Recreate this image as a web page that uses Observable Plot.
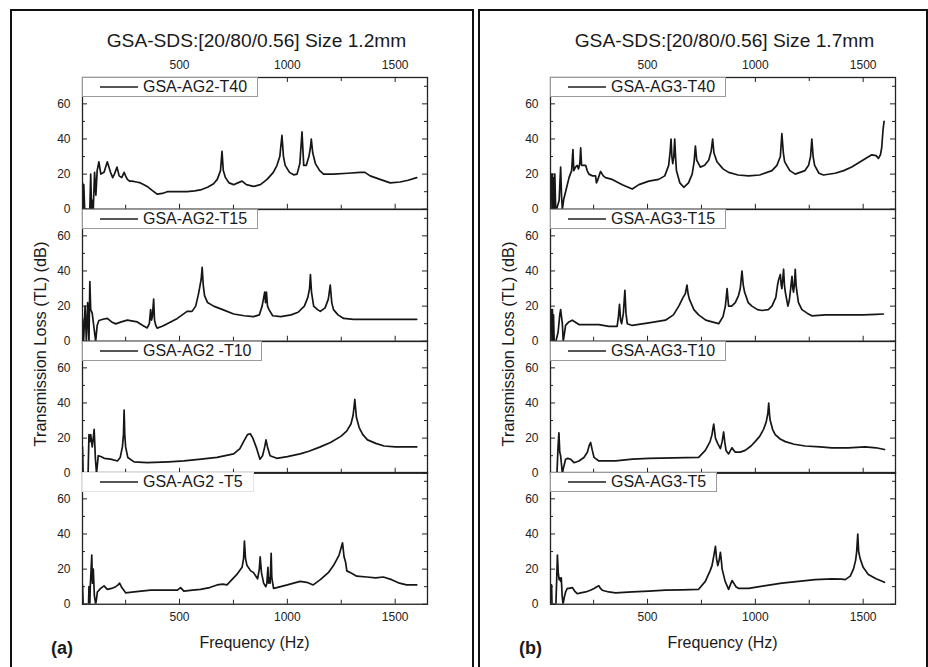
<!DOCTYPE html>
<html><head><meta charset="utf-8">
<script src="https://cdn.jsdelivr.net/npm/d3@7"></script>
<script src="https://cdn.jsdelivr.net/npm/@observablehq/plot@0.6"></script>
<style>
body{margin:0;background:#fff;font-family:Arial,"Liberation Sans",sans-serif;color:#1a1a1a;}
#root{position:relative;width:928px;height:667px;overflow:hidden;background:#fff;}
.panel{position:absolute;border:2px solid #111;box-sizing:border-box;}
.abs{position:absolute;white-space:nowrap;}
.title{font-size:19.2px;transform:translateX(-50%);}
.xlab{font-size:16px;transform:translateX(-50%);}
.ylab{font-size:16.3px;transform:translate(-50%,-50%) rotate(-90deg);}
.tag{font-size:18px;font-weight:bold;}
.legend{position:absolute;height:20px;box-sizing:border-box;background:#fff;border:1px solid #9a9a9a;display:flex;align-items:center;padding-right:10px;font-size:16px;white-space:nowrap;}
.legend svg{margin-left:17px;margin-right:5px;}
.sub{position:absolute;}
</style>
</head><body><div id="root"></div>
<script>
// ---- data: [frequency (Hz), transmission loss (dB)] ----
const AG2_T40 = [[50,15],[53,0],[56,14],[60,0],[66,0],[78,0],[84,0],[88,20],[92,0],[96,5],[100,0],[106,21],[112,8],[118,22],[126,27],[135,20],[150,21],[165,27],[180,21],[190,18],[198,20],[210,24],[220,19],[232,18],[243,21],[250,19],[258,17],[268,16],[280,16],[300,15.5],[319,15],[335,14],[350,13],[370,11],[396,8.6],[420,9],[443,10],[490,10],[535,10],[570,10.5],[597,11],[630,12.5],[658,14.5],[675,17],[690,22],[697,33],[703,22],[713,18],[730,15],[751,14],[770,15],[790,16],[810,14],[843,13],[875,14],[906,17],[935,21],[952,25],[965,30],[975,42],[982,30],[990,25],[1010,21],[1029,19.6],[1045,20],[1058,26],[1068,44],[1076,25],[1088,25],[1100,30],[1107,35],[1111,40],[1118,32],[1130,26],[1150,22],[1168,20],[1214,20],[1280,20.5],[1338,21],[1360,21],[1384,19],[1430,17],[1477,15],[1523,15.5],[1560,16.5],[1600,18]];
const AG2_T15 = [[50,13],[55,0],[62,20],[68,0],[74,22],[80,0],[84,34],[88,18],[95,16],[103,8],[111,0],[118,9],[126,11.8],[145,12.5],[165,13],[185,11],[204,9.9],[230,11],[258,12],[304,11],[330,9],[350,7.6],[360,10],[366,18],[370,12],[374,14],[380,24],[384,12],[390,9],[396,7.5],[420,8.5],[443,10],[490,13],[535,17],[558,17],[575,20],[588,27],[600,35],[605,42],[610,32],[616,26],[630,22],[658,20],[700,18],[751,15.5],[800,14.5],[843,14],[870,15],[883,20],[895,28],[899,22],[903,28],[908,20],[915,18],[932,14.5],[970,14],[1017,15],[1050,16.5],[1079,20],[1095,25],[1103,30],[1107,38],[1112,28],[1122,20],[1140,18],[1153,17],[1175,19],[1190,24],[1199,32],[1206,22],[1214,18],[1235,15],[1261,13],[1307,12.5],[1400,12.5],[1500,12.5],[1600,12.5]];
const AG2_T10 = [[50,15],[53,0],[76,0],[80,22],[84,18],[88,22],[95,15],[100,20],[104,25],[110,8],[115,0],[120,6],[123,10],[135,9.5],[151,8.5],[180,8],[212,7],[225,9],[235,15],[240,22],[243,36],[246,22],[250,15],[260,9],[289,6.5],[350,6],[450,6.5],[520,7],[600,8],[674,9],[751,11],[780,14],[797,18],[815,22],[828,22.5],[840,20],[858,14],[873,8],[885,10],[895,15],[901,19],[908,15],[920,10],[951,8.5],[1000,9.5],[1059,11],[1100,12.5],[1153,15],[1200,17.5],[1248,21],[1275,24],[1295,28],[1305,33],[1313,42],[1320,32],[1333,26],[1350,22],[1372,19],[1410,17],[1449,15.5],[1500,15],[1550,15],[1600,15]];
const AG2_T5 = [[50,11],[53,0],[78,0],[80,10],[84,0],[86,10],[90,20],[93,28],[96,12],[100,20],[105,5],[111,0],[115,3],[119,7],[134,9],[150,10.5],[165,8.5],[185,9],[204,10],[215,11],[222,12],[230,10],[250,6.5],[289,7],[366,8],[443,8],[490,8],[505,9.5],[520,7.5],[560,8],[597,8.5],[640,9.5],[674,11],[700,11.5],[720,11],[766,17],[790,21],[797,26],[801,36],[806,26],[813,22],[830,19],[843,18],[862,14.5],[870,20],[874,27],[880,18],[890,12],[900,10],[905,12],[910,21],[913,12],[917,15],[920,12],[925,29],[928,15],[932,12],[936,9],[951,9.5],[1000,11],[1059,13],[1090,12.5],[1120,11],[1153,14],[1190,18],[1214,22],[1240,28],[1256,35],[1263,27],[1270,24],[1276,19],[1300,17.5],[1322,16],[1368,15.5],[1410,15],[1445,15.5],[1484,14],[1520,12],[1553,11],[1600,11]];
const AG3_T40 = [[55,20],[57,0],[59,20],[61,0],[63,18],[66,0],[70,20],[74,0],[78,0],[90,5],[97,24],[101,8],[105,0],[112,6],[120,10],[136,18],[148,22],[154,34],[158,22],[166,24],[174,25],[180,23],[186,26],[190,35],[194,25],[198,25],[213,25],[220,22],[228,20],[245,19],[259,19],[263,15],[267,16],[282,21.5],[295,19],[305,18],[336,17],[383,14],[429,11.5],[460,14],[506,16],[552,17],[580,19],[598,25],[605,33],[609,40],[613,30],[617,26],[622,30],[626,40],[630,30],[634,22],[650,15],[668,12.5],[690,15],[707,20],[716,27],[722,36],[728,28],[745,24],[765,25],[784,28],[795,33],[802,40],[808,32],[822,27],[850,23],[876,21],[920,19.5],[969,19],[1020,19.5],[1077,22],[1100,25],[1116,30],[1123,43],[1130,32],[1136,27],[1160,22],[1185,20],[1230,22],[1247,25],[1256,30],[1262,40],[1268,30],[1275,25],[1295,20.5],[1316,19.5],[1370,20.5],[1410,22],[1447,24],[1500,28],[1540,31],[1560,30.5],[1571,29],[1580,31],[1586,35],[1592,45],[1597,50]];
const AG3_T15 = [[55,18],[57,0],[59,18],[61,0],[64,15],[67,0],[75,0],[85,5],[93,15],[97,18],[101,14],[105,10],[109,0],[113,3],[120,9],[135,11],[151,12],[182,9.5],[230,9.5],[274,9.5],[321,8.5],[359,8.5],[365,14],[370,21],[375,12],[380,10],[388,16],[395,29],[400,16],[406,10],[429,9],[506,10.5],[583,12],[620,15],[645,20],[665,25],[675,27],[683,32],[688,27],[694,24],[715,18],[737,15],[770,12],[799,11],[830,10],[850,14],[861,20],[869,30],[873,24],[876,20],[890,20],[907,22],[922,26],[930,30],[938,40],[944,32],[950,28],[967,22],[984,20],[1010,18],[1031,17.5],[1060,18],[1077,20],[1095,25],[1103,32],[1108,35],[1116,38],[1120,32],[1123,30],[1127,35],[1131,41],[1135,32],[1139,28],[1145,24],[1151,20],[1157,23],[1162,28],[1170,37],[1174,30],[1177,28],[1181,32],[1185,41],[1189,32],[1193,28],[1200,22],[1216,18],[1240,16],[1262,14.5],[1324,15],[1380,15],[1432,15],[1500,15],[1560,15.3],[1594,15.5]];
const AG3_T10 = [[55,0],[80,0],[85,15],[89,23],[93,12],[97,10],[101,5],[105,0],[110,3],[120,8],[130,8.5],[143,8],[159,6],[182,7],[205,9],[221,12],[230,16],[236,17.5],[244,13],[252,9],[274,7],[352,7],[430,8],[506,8.5],[620,8.7],[737,9],[768,13],[790,18],[799,22],[804,26],[807,28],[811,24],[815,20],[825,17],[838,14],[846,18],[853,23.5],[858,18],[864,13],[876,11],[885,13],[892,14.5],[900,13],[907,12],[930,12],[953,13],[980,15.5],[999,18],[1020,21],[1038,25],[1050,29],[1058,34],[1062,40],[1066,33],[1069,30],[1080,25],[1092,22],[1115,19.5],[1139,18],[1180,16.5],[1231,15.5],[1300,15],[1355,14.5],[1430,14.5],[1509,15],[1560,14.5],[1599,13.5]];
const AG3_T5 = [[55,11],[57,0],[75,0],[79,15],[82,28],[86,18],[90,14],[93,15],[97,13],[100,15],[104,5],[108,0],[114,4],[120,7],[128,9],[136,9],[151,9.5],[162,7.5],[174,6],[190,6.5],[213,7],[235,8],[252,9],[265,10],[274,10.5],[282,9],[290,8],[320,7],[352,6.5],[429,7],[506,7.5],[583,8],[660,8.2],[737,8.5],[768,13],[790,19],[799,22],[808,28],[815,33],[820,26],[826,22],[832,25],[838,29.5],[843,24],[846,20],[860,13],[876,8.5],[884,11],[892,13.5],[900,12],[910,10],[923,9],[969,9],[1040,10.5],[1123,12],[1200,13],[1277,14],[1355,14.5],[1400,14.3],[1417,14],[1440,16],[1455,20],[1465,25],[1470,30],[1475,40],[1479,30],[1486,26],[1500,21],[1524,17],[1560,14.5],[1599,12.5]];

const panelTitles = ["GSA-SDS:[20/80/0.56] Size 1.2mm", "GSA-SDS:[20/80/0.56] Size 1.7mm"];
const panelTags = ["(a)", "(b)"];
const seriesA = [AG2_T40, AG2_T15, AG2_T10, AG2_T5];
const seriesB = [AG3_T40, AG3_T15, AG3_T10, AG3_T5];
const namesA = ["GSA-AG2-T40", "GSA-AG2-T15", "GSA-AG2 -T10", "GSA-AG2 -T5"];
const namesB = ["GSA-AG3-T40", "GSA-AG3-T15", "GSA-AG3-T10", "GSA-AG3-T5"];
const xDomain = [50, 1650];
const yDomain = [0, 75];
const xMajor = [500, 1000, 1500];
const xMinor = [250, 750, 1250];
const yMajor = [0, 20, 40, 60];
const yMinor = [10, 30, 50, 70];
const yLabel = "Transmission Loss (TL) (dB)";
const xLabel = "Frequency (Hz)";

// ---- layout ----
const root = document.getElementById("root");
const FW = 345, FH = 131.75, FTOP = 77;
const ML = 45, MR = 12, MT = 30, MB = 30;
const INK = "#161616";
const fmt = d => String(d);

function el(cls, text, css) {
  const d = document.createElement("div");
  d.className = cls;
  if (text != null) d.textContent = text;
  Object.assign(d.style, css);
  root.appendChild(d);
  return d;
}

function subplot(data, isTop, isBottom) {
  const marks = [
    Plot.line(data, {x: d => d[0], y: d => d[1], stroke: INK, strokeWidth: 1.7, clip: true}),
    Plot.frame({stroke: "#222", strokeWidth: 1.3}),
    Plot.ruleY(yMajor, {stroke: "#222", insetRight: FW - 5}),
    Plot.ruleY(yMajor, {stroke: "#222", insetLeft: FW - 5}),
    Plot.ruleY(yMinor, {stroke: "#222", insetRight: FW - 3}),
    Plot.ruleY(yMinor, {stroke: "#222", insetLeft: FW - 3}),
    Plot.ruleX(xMajor, {stroke: "#222", insetTop: FH - 5}),
    Plot.ruleX(xMinor, {stroke: "#222", insetTop: FH - 4}),
    Plot.axisY(yMajor, {anchor: "left", tickSize: 0, tickPadding: 12, tickFormat: fmt})
  ];
  if (isTop) {
    marks.push(Plot.ruleX(xMajor, {stroke: "#222", insetBottom: FH - 5}));
    marks.push(Plot.ruleX(xMinor, {stroke: "#222", insetBottom: FH - 4}));
    marks.push(Plot.axisX(xMajor, {anchor: "top", tickSize: 0, tickPadding: 9, tickFormat: fmt}));
  }
  if (isBottom) {
    marks.push(Plot.axisX(xMajor, {anchor: "bottom", tickSize: 0, tickPadding: 8, tickFormat: fmt}));
  }
  return Plot.plot({
    width: ML + FW + MR, height: MT + FH + MB,
    marginLeft: ML, marginRight: MR, marginTop: MT, marginBottom: MB,
    x: {domain: xDomain, axis: null},
    y: {domain: yDomain, axis: null},
    style: {background: "transparent", fontSize: "12px", fontFamily: "Arial, 'Liberation Sans', sans-serif", color: "#222", overflow: "visible"},
    marks
  });
}

function panel(p, frameLeft, boxLeft, boxWidth, series, names) {
  el("panel", null, {left: boxLeft + "px", top: "9px", width: boxWidth + "px", height: "700px"});
  el("abs title", panelTitles[p], {left: (frameLeft + FW / 2 + 2) + "px", top: "29.5px"});
  series.forEach((s, i) => {
    const top = FTOP + i * FH;
    const svg = subplot(s, i === 0, i === series.length - 1);
    const w = document.createElement("div");
    w.className = "sub";
    w.style.left = (frameLeft - ML) + "px";
    w.style.top = (top - MT) + "px";
    w.appendChild(svg);
    root.appendChild(w);
  });
  series.forEach((s, i) => {
    const top = FTOP + i * FH;
    const lg = el("legend", null, {left: frameLeft + "px", top: top + "px", borderColor: (p === 0 && i === 3) ? "#e4e4e4" : "#9a9a9a"});
    lg.innerHTML = '<svg width="38" height="4"><line x1="0" x2="38" y1="2" y2="2" stroke="#1e1e1e" stroke-width="1.5"/></svg><span></span>';
    lg.querySelector("span").textContent = names[i];
  });
  el("abs ylab", yLabel, {left: (frameLeft - 42) + "px", top: (FTOP + 2 * FH + 3) + "px"});
  el("abs xlab", xLabel, {left: (frameLeft + FW / 2) + "px", top: "634px"});
  el("abs tag", panelTags[p], {left: (frameLeft - 31) + "px", top: "638px"});
}

panel(0, 82, 10, 464, seriesA, namesA);
panel(1, 550, 478, 450, seriesB, namesB);
</script></body></html>
